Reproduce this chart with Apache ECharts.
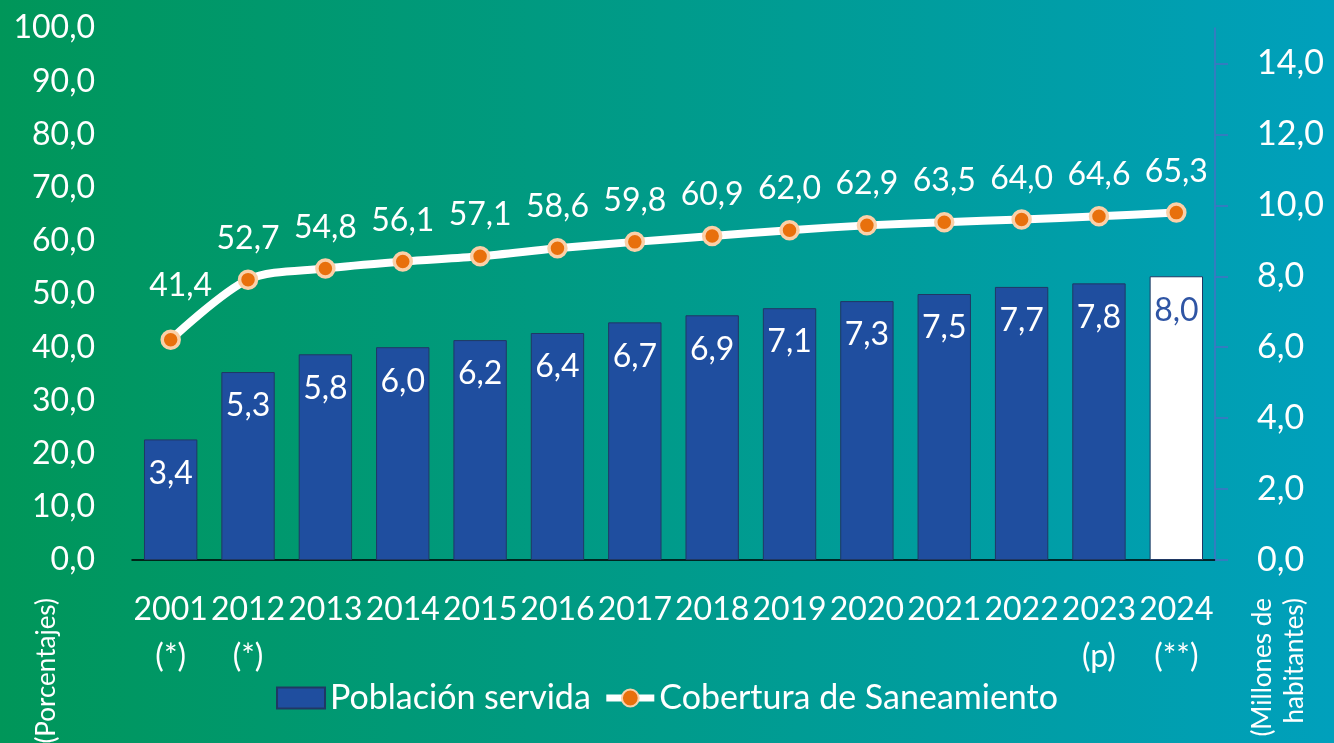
<!DOCTYPE html>
<html>
<head>
<meta charset="utf-8">
<script src="https://cdn.jsdelivr.net/npm/echarts@6/dist/echarts.min.js"></script>
<style>
  html, body { margin: 0; padding: 0; }
  #chart { width: 1334px; height: 743px; }
</style>
</head>
<body>
<div id="chart"></div>
<script>
// datos
const years = ['2001\n(*)', '2012\n(*)', '2013', '2014', '2015', '2016', '2017', '2018', '2019', '2020', '2021', '2022', '2023\n(p)', '2024\n(**)']
const poblacionServida = [3.4, 5.3, 5.8, 6.0, 6.2, 6.4, 6.7, 6.9, 7.1, 7.3, 7.5, 7.7, 7.8, 8.0]
const cobertura = [41.4, 52.7, 54.8, 56.1, 57.1, 58.6, 59.8, 60.9, 62.0, 62.9, 63.5, 64.0, 64.6, 65.3]
const rightTicks = [0, 2, 4, 6, 8, 10, 12, 14]

const font = 'Lato, "Noto Sans", sans-serif'
const barBlue = '#1F4E9F'
const fmt = v => Number(v).toFixed(1).replace('.', ',')

const chart = echarts.init(document.getElementById('chart'))

const barData = poblacionServida.map((v, i) => {
  // último año (estimado) va en blanco
  if (i === poblacionServida.length - 1) {
    return {
      value: v,
      itemStyle: { color: '#ffffff', borderColor: '#1F3864' },
      label: { color: '#2F55A4' }
    }
  }
  return v
})

const lineData = cobertura.map((v, i) => {
  if (i === 0) return { value: v, label: { offset: [10, -13] } }
  return v
})

chart.setOption({
  backgroundColor: new echarts.graphic.LinearGradient(0, 0, 1, 0, [
    { offset: 0, color: '#009659' },
    { offset: 1, color: '#00A0BC' }
  ]),
  textStyle: { fontFamily: font },
  grid: { left: 132, right: 119, top: 28, bottom: 183 },
  legend: {
    left: 'center',
    top: 676,
    itemWidth: 48,
    itemHeight: 21,
    itemGap: 12,
    itemTextGap: 6,
    textStyle: { color: '#fff', fontSize: 34, fontFamily: font },
    data: [
      { name: 'Población servida', icon: 'rect' },
      { name: 'Cobertura de Saneamiento', lineStyle: { width: 7 } }
    ]
  },
  xAxis: {
    type: 'category',
    data: years,
    boundaryGap: true,
    axisLine: { lineStyle: { color: '#000', width: 1.5 } },
    axisTick: { inside: true, length: 11, lineStyle: { color: '#000', width: 1.5 } },
    axisLabel: { color: '#fff', fontSize: 32, lineHeight: 47, margin: 26, interval: 0 }
  },
  yAxis: [
    {
      type: 'value',
      min: 0,
      max: 100,
      interval: 10,
      axisLine: { show: false },
      axisTick: { show: false },
      splitLine: { show: false },
      axisLabel: { color: '#fff', fontSize: 32, margin: 37, formatter: fmt }
    },
    {
      type: 'value',
      min: 0,
      max: 15,
      position: 'right',
      axisLine: { show: true, lineStyle: { color: '#4472C4', width: 1.5 } },
      axisTick: { show: true, length: 13, customValues: rightTicks, lineStyle: { color: '#4472C4', width: 1.5 } },
      splitLine: { show: false },
      axisLabel: { color: '#fff', fontSize: 34, margin: 42, customValues: rightTicks, formatter: fmt }
    }
  ],
  series: [
    {
      name: 'Población servida',
      type: 'bar',
      yAxisIndex: 1,
      barCategoryGap: '31%',
      data: barData,
      itemStyle: { color: barBlue, borderColor: '#203864', borderWidth: 1 },
      label: {
        show: true,
        position: 'insideTop',
        distance: 18,
        color: '#fff',
        fontSize: 32,
        formatter: p => fmt(p.value)
      }
    },
    {
      name: 'Cobertura de Saneamiento',
      type: 'line',
      yAxisIndex: 0,
      data: lineData,
      smooth: 0.3,
      symbol: 'circle',
      symbolSize: 17,
      lineStyle: { color: '#fff', width: 8 },
      itemStyle: { color: '#E8700C', borderColor: '#FBD0A8', borderWidth: 3.5 },
      label: {
        show: true,
        position: 'top',
        distance: 15,
        color: '#fff',
        fontSize: 32,
        formatter: p => fmt(p.value)
      },
      z: 5
    }
  ],
  graphic: [
    {
      type: 'text',
      x: 47,
      y: 598,
      rotation: Math.PI / 2,
      style: {
        text: '(Porcentajes)',
        fill: '#fff',
        font: '26px ' + font,
        align: 'right',
        verticalAlign: 'middle'
      }
    },
    {
      type: 'text',
      x: 1279,
      y: 598,
      rotation: Math.PI / 2,
      style: {
        text: '(Millones de\nhabitantes)',
        fill: '#fff',
        font: '26px ' + font,
        lineHeight: 32,
        align: 'right',
        verticalAlign: 'middle'
      }
    }
  ]
})
</script>
</body>
</html>
